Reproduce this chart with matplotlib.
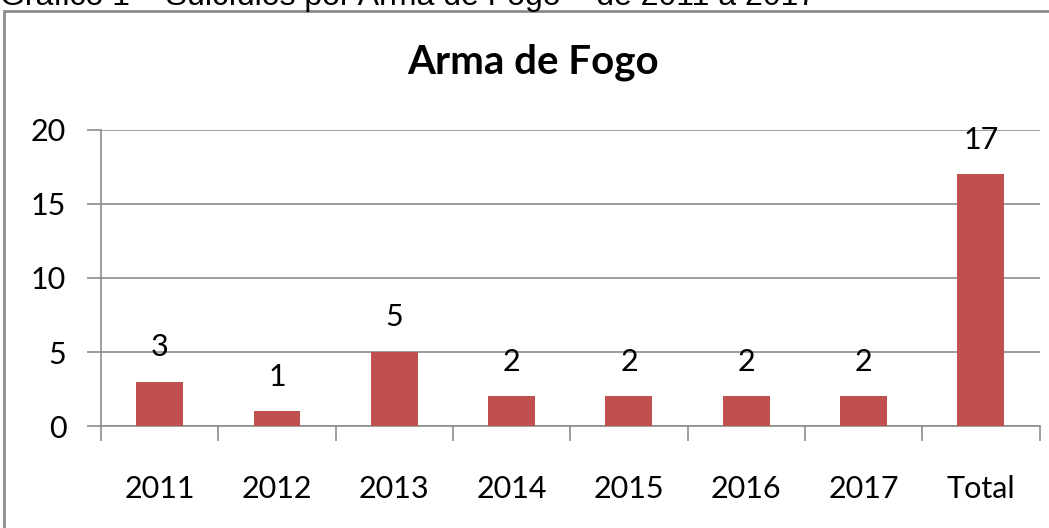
import matplotlib.pyplot as plt
from matplotlib.patches import Rectangle

# data
categories = ['2011', '2012', '2013', '2014', '2015', '2016', '2017', 'Total']
values = [3, 1, 5, 2, 2, 2, 2, 17]
yticks = [0, 5, 10, 15, 20]

bar_color = '#C0504D'
grid_color = '#8C8C8C'

fig = plt.figure(figsize=(10.49, 5.28), dpi=100)
ax = fig.add_axes([0.0963, 0.193, 0.8947, 0.561])

x = list(range(len(categories)))
bars = ax.bar(x, values, width=0.4, color=bar_color, zorder=3)

for xi, v in zip(x, values):
    ax.annotate(str(v), (xi, v), xytext=(0, 25), textcoords='offset points',
                ha='center', va='center', fontsize=22, family='Lato', color='black')

ax.set_xlim(-0.5, len(categories) - 0.5)
ax.set_ylim(0, 20)
ax.set_yticks(yticks)
ax.set_xticks([i - 0.5 for i in range(len(categories) + 1)], minor=False)
ax.set_xticklabels([])
ax.set_xticks(x, minor=True)
ax.set_xticklabels(categories, minor=True)
ax.tick_params(axis='x', which='major', length=11, color=grid_color, width=1.2)
ax.tick_params(axis='x', which='minor', length=0, pad=35, labelsize=22)
ax.tick_params(axis='y', length=10, color=grid_color, width=1.2, pad=15, labelsize=22)
for lbl in ax.get_xticklabels(minor=True) + ax.get_yticklabels():
    lbl.set_family('Lato')

ax.grid(axis='y', color=grid_color, linewidth=1.2, zorder=0)
for s in ['top', 'right']:
    ax.spines[s].set_visible(False)
for s in ['left', 'bottom']:
    ax.spines[s].set_color(grid_color)
    ax.spines[s].set_linewidth(1.2)

fig.text(0.508, 0.882, 'Arma de Fogo', ha='center', va='center',
         fontsize=29, fontweight='bold', family='Lato')

# outer frame of the chart, cut off at the right and bottom
fig.add_artist(Rectangle((4 / 1049, -0.1), 1.2, 1.1 - 11 / 528,
                         transform=fig.transFigure, fill=False,
                         edgecolor='#8C8C8C', linewidth=2, clip_on=False))

# caption above the chart, mostly cut off by the image edge
fig.text(0.0, 1 - 5.5 / 528, 'Gráfico 1 – Suicídios por Arma de Fogo – de 2011 a 2017',
         ha='left', va='baseline', fontsize=23, family='Liberation Sans')

fig.savefig('out.png', dpi=100)
